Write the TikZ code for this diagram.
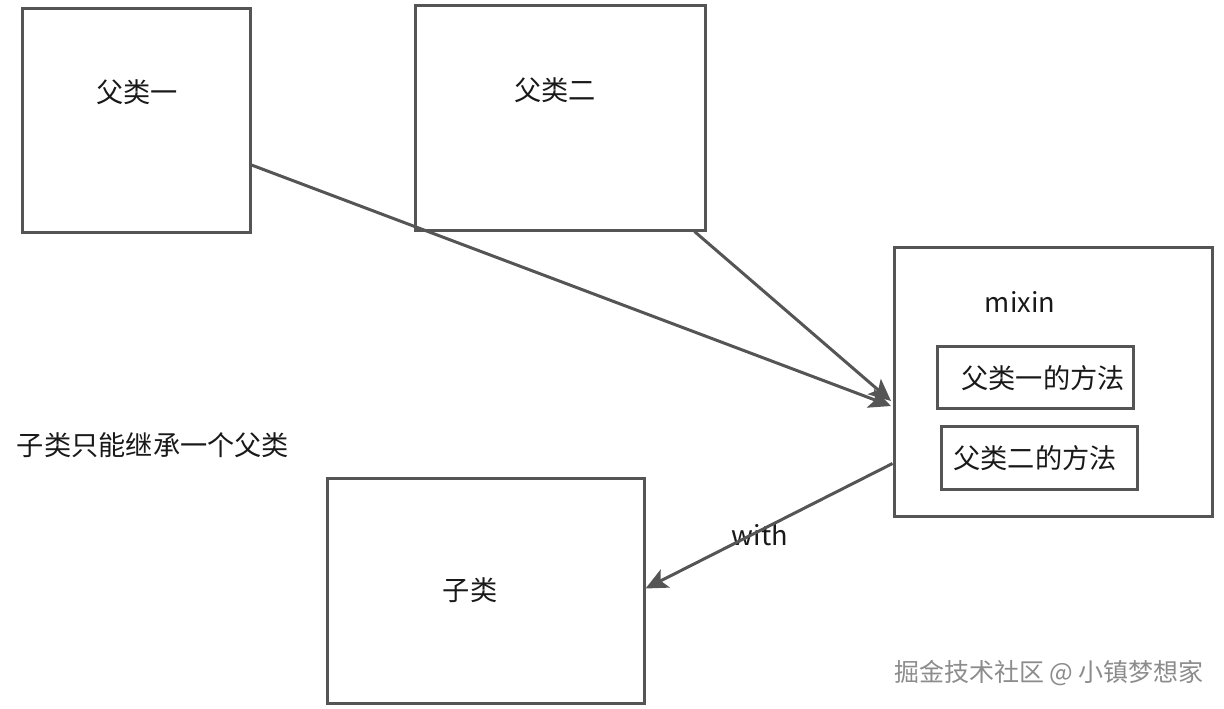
\documentclass[tikz,border=0pt]{standalone}
\usepackage{fontspec}
\setmainfont{Noto Sans CJK SC}
\usetikzlibrary{arrows.meta}
\definecolor{ln}{HTML}{555555}
\begin{document}
\begin{tikzpicture}[x=0.5pt,y=-0.5pt,
  box/.style={draw=ln,line width=1.5pt,inner sep=0pt},
  txt/.style={font=\fontsize{13.6pt}{15pt}\selectfont,text=black!90,inner sep=0pt},
  arr/.style={draw=ln,line width=1.5pt,-{Stealth[length=11pt,width=10pt,inset=2.5pt]}}]
\useasboundingbox (0,0) rectangle (1224,708);
% boxes
\node[box,minimum width=114pt,minimum height=112pt] (p1) at (136,120) {};
\node[box,minimum width=145pt,minimum height=112.5pt] (p2) at (560,117.5) {};
\node[box,minimum width=159pt,minimum height=134.5pt] (mx) at (1053,381.5) {};
\node[box,minimum width=98pt,minimum height=31pt] (m1) at (1035,377) {};
\node[box,minimum width=98pt,minimum height=31.5pt] (m2) at (1039,457.5) {};
\node[box,minimum width=158.5pt,minimum height=112.5pt] (ch) at (485.5,590.5) {};
% texts
\node[txt] (t1) at (137,92) {父类一};
\node[txt] (t2) at (555,90) {父类二};
\node[txt] (tm) at (1020,302) {mixin};
\node[txt] (tm1) at (1043,378) {父类一的方法};
\node[txt] (tm2) at (1035,458) {父类二的方法};
\node[txt] (tc) at (470,590) {子类};
\node[txt] (note) at (153,445) {子类只能继承一个父类};
\node[txt] (tw) at (760,535) {with};
\node[font=\fontsize{12.5pt}{14pt}\selectfont,text=black!45,inner sep=0pt] (wm) at (1049,673) {掘金技术社区 @ 小镇梦想家};
% arrows
\coordinate (tip1) at (891,406);
\coordinate (tip2) at (891,401);
\draw[arr] ([yshift=-22.5pt]p1.east) -- (tip1);
\draw[arr] ([xshift=-6pt]p2.south east) -- (tip2);
\draw[arr] ([yshift=-41pt]mx.west) -- ([yshift=1pt]ch.east);
\end{tikzpicture}
\end{document}
